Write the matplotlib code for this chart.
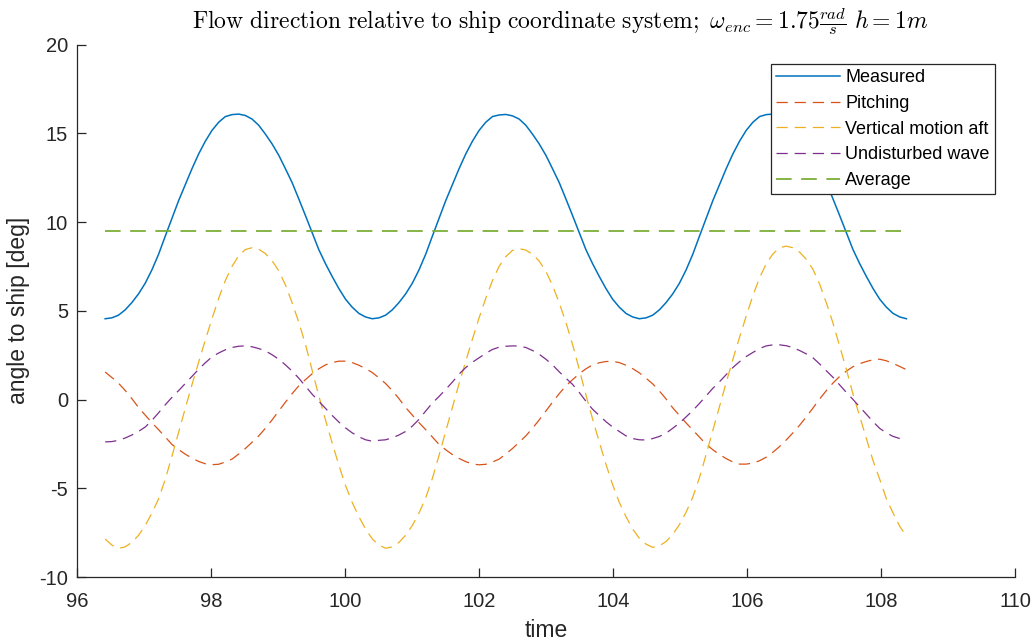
import numpy as np
import matplotlib.pyplot as plt

plt.rcParams['font.family'] = ['Liberation Sans', 'DejaVu Sans']
plt.rcParams['mathtext.fontset'] = 'cm'
plt.rcParams['axes.unicode_minus'] = False

# sampling grid of the traces (about 0.1 s)
time = np.linspace(96.42, 108.38, 121)

measured = [4.55, 4.6, 4.75, 5.05, 5.46, 5.95, 6.55, 7.3, 8.18, 9.2, 10.2,
            11.2, 12.1, 13.0, 13.83, 14.55, 15.16, 15.62, 15.94, 16.05, 16.08,
            16.0, 15.8, 15.45, 14.95, 14.4, 13.76, 13.0, 12.22, 11.3, 10.36,
            9.4, 8.44, 7.65, 6.93, 6.25, 5.65, 5.2, 4.85, 4.65, 4.55,
            4.6, 4.75, 5.05, 5.46, 5.95, 6.55, 7.3, 8.18, 9.2, 10.2,
            11.2, 12.1, 13.0, 13.83, 14.55, 15.16, 15.62, 15.94, 16.03, 16.06,
            15.98, 15.8, 15.45, 14.95, 14.4, 13.76, 13.0, 12.22, 11.3, 10.36,
            9.4, 8.44, 7.65, 6.93, 6.25, 5.65, 5.2, 4.85, 4.65, 4.55,
            4.6, 4.75, 5.05, 5.46, 5.95, 6.55, 7.3, 8.18, 9.2, 10.2,
            11.2, 12.1, 13.0, 13.83, 14.55, 15.16, 15.62, 15.94, 16.05, 16.08,
            16.0, 15.8, 15.45, 14.95, 14.4, 13.76, 13.0, 12.22, 11.3, 10.36,
            9.4, 8.44, 7.65, 6.93, 6.25, 5.65, 5.2, 4.85, 4.65, 4.55]

pitching = [1.55, 1.24, 0.92, 0.51, 0.05, -0.45, -0.88, -1.3, -1.7, -2.11, -2.53,
            -2.82, -3.08, -3.3, -3.49, -3.62, -3.67, -3.65, -3.52, -3.36, -3.07,
            -2.76, -2.41, -2.05, -1.62, -1.15, -0.65, -0.15, 0.33, 0.77, 1.12,
            1.45, 1.73, 1.95, 2.08, 2.16, 2.16, 2.08, 1.93, 1.74, 1.52,
            1.22, 0.9, 0.5, 0.05, -0.45, -0.88, -1.3, -1.7, -2.11, -2.53,
            -2.83, -3.1, -3.32, -3.5, -3.63, -3.68, -3.65, -3.52, -3.36, -3.07,
            -2.76, -2.41, -2.05, -1.62, -1.15, -0.65, -0.15, 0.33, 0.77, 1.12,
            1.45, 1.73, 1.95, 2.07, 2.14, 2.15, 2.08, 1.93, 1.74, 1.5,
            1.2, 0.88, 0.48, 0.03, -0.47, -0.9, -1.32, -1.72, -2.12, -2.52,
            -2.83, -3.1, -3.33, -3.52, -3.64, -3.64, -3.58, -3.45, -3.25, -2.97,
            -2.65, -2.28, -1.88, -1.45, -0.98, -0.48, 0.03, 0.5, 0.93, 1.3,
            1.6, 1.85, 2.02, 2.14, 2.24, 2.27, 2.18, 2.03, 1.86, 1.68]

vertical_aft = [-7.86, -8.2, -8.39, -8.3, -8.05, -7.65, -7.1, -6.4, -5.6, -4.5, -3.2,
                -1.85, -0.5, 0.83, 2.1, 3.35, 4.55, 5.7, 6.7, 7.5, 8.1,
                8.45, 8.55, 8.47, 8.22, 7.82, 7.25, 6.45, 5.45, 4.35, 3.1,
                1.65, 0.2, -1.15, -2.45, -3.7, -4.85, -5.8, -6.6, -7.3, -7.85,
                -8.2, -8.38, -8.3, -8.05, -7.65, -7.1, -6.4, -5.55, -4.45, -3.15,
                -1.8, -0.45, 0.9, 2.15, 3.4, 4.6, 5.7, 6.7, 7.5, 8.05,
                8.4, 8.5, 8.42, 8.18, 7.8, 7.22, 6.42, 5.45, 4.35, 3.1,
                1.7, 0.25, -1.1, -2.4, -3.65, -4.8, -5.8, -6.6, -7.3, -7.82,
                -8.15, -8.33, -8.25, -8.0, -7.6, -7.05, -6.35, -5.5, -4.4, -3.1,
                -1.75, -0.4, 0.95, 2.25, 3.5, 4.7, 5.85, 6.85, 7.65, 8.2,
                8.55, 8.64, 8.55, 8.3, 7.9, 7.33, 6.5, 5.45, 4.3, 3.0,
                1.7, 0.3, -0.95, -2.2, -3.45, -4.5, -5.6, -6.4, -7.15, -7.7]

undisturbed = [-2.39, -2.37, -2.3, -2.17, -2.0, -1.8, -1.55, -1.18, -0.75, -0.3, 0.12,
               0.5, 0.9, 1.3, 1.7, 2.07, 2.4, 2.62, 2.8, 2.93, 3.0,
               3.02, 2.97, 2.87, 2.74, 2.52, 2.27, 1.95, 1.6, 1.2, 0.75,
               0.3, -0.1, -0.5, -0.9, -1.27, -1.6, -1.88, -2.1, -2.27, -2.35,
               -2.3, -2.27, -2.16, -2.0, -1.8, -1.5, -1.12, -0.65, -0.2, 0.17,
               0.57, 0.98, 1.43, 1.8, 2.1, 2.35, 2.6, 2.82, 2.95, 3.0,
               3.02, 3.01, 2.93, 2.76, 2.55, 2.27, 1.95, 1.56, 1.2, 0.85,
               0.4, -0.1, -0.55, -0.9, -1.25, -1.55, -1.8, -2.05, -2.2, -2.27,
               -2.28, -2.2, -2.08, -1.9, -1.62, -1.33, -0.98, -0.62, -0.22, 0.2,
               0.63, 1.0, 1.4, 1.8, 2.13, 2.42, 2.65, 2.87, 3.02, 3.08,
               3.08, 3.03, 2.92, 2.76, 2.57, 2.35, 2.0, 1.62, 1.25, 0.82,
               0.4, 0.0, -0.42, -0.83, -1.25, -1.63, -1.88, -2.08, -2.2, -2.26]

average = 9.5

c_blue = '#0072BD'
c_orange = '#D95319'
c_yellow = '#EDB120'
c_purple = '#7E2F8E'
c_green = '#77AC30'
c_axis = '#262626'

fig = plt.figure(figsize=(10.33, 6.41), dpi=100)
ax = fig.add_axes([0.07454, 0.09984, 0.90803, 0.83073])

ax.plot(time, measured, color=c_blue, lw=1.1, label='Measured')
ax.plot(time, pitching, color=c_orange, lw=0.9, dashes=(9, 5.5), label='Pitching')
ax.plot(time, vertical_aft, color=c_yellow, lw=0.9, dashes=(9, 5.5), label='Vertical motion aft')
ax.plot(time, undisturbed, color=c_purple, lw=0.9, dashes=(9, 5.5), label='Undisturbed wave')
ax.plot([time[0], time[-1]], [average, average], color=c_green, lw=1.25,
        dashes=(9, 5.5), label='Average')

ax.set_xlim(96, 110)
ax.set_ylim(-10, 20)
ax.set_xticks(np.arange(96, 111, 2))
ax.set_yticks(np.arange(-10, 21, 5))
ax.spines['top'].set_visible(False)
ax.spines['right'].set_visible(False)
for s in ['left', 'bottom']:
    ax.spines[s].set_color(c_axis)
    ax.spines[s].set_linewidth(0.9)
ax.tick_params(direction='in', length=6.5, width=0.9, colors=c_axis, labelsize=14.5)
ax.tick_params(axis='x', pad=11)
ax.tick_params(axis='y', pad=6.5)

ax.set_xlabel('time', fontsize=16.5, color=c_axis)
ax.set_ylabel('angle to ship [deg]', fontsize=16.5, color=c_axis)
ax.xaxis.set_label_coords(0.5, -0.079)
ax.yaxis.set_label_coords(-0.05, 0.5)

fig.text(560 / 1033, 1 - 29 / 641,
         r'$\mathrm{Flow\ direction\ relative\ to\ ship\ coordinate\ system;}\ '
         r'\omega_{enc} = 1.75\frac{rad}{s}\ h = 1m$',
         fontsize=17, ha='center', va='baseline')

leg = ax.legend(loc='upper right', bbox_to_anchor=(0.9787, 0.9634), fontsize=13,
                frameon=True, fancybox=False, borderaxespad=0, handlelength=3.55,
                labelspacing=0.48, borderpad=0.3, handletextpad=0.28)
leg.get_frame().set_edgecolor(c_axis)
leg.get_frame().set_linewidth(0.9)
leg.get_frame().set_alpha(1)

fig.savefig('out.png', dpi=100)
